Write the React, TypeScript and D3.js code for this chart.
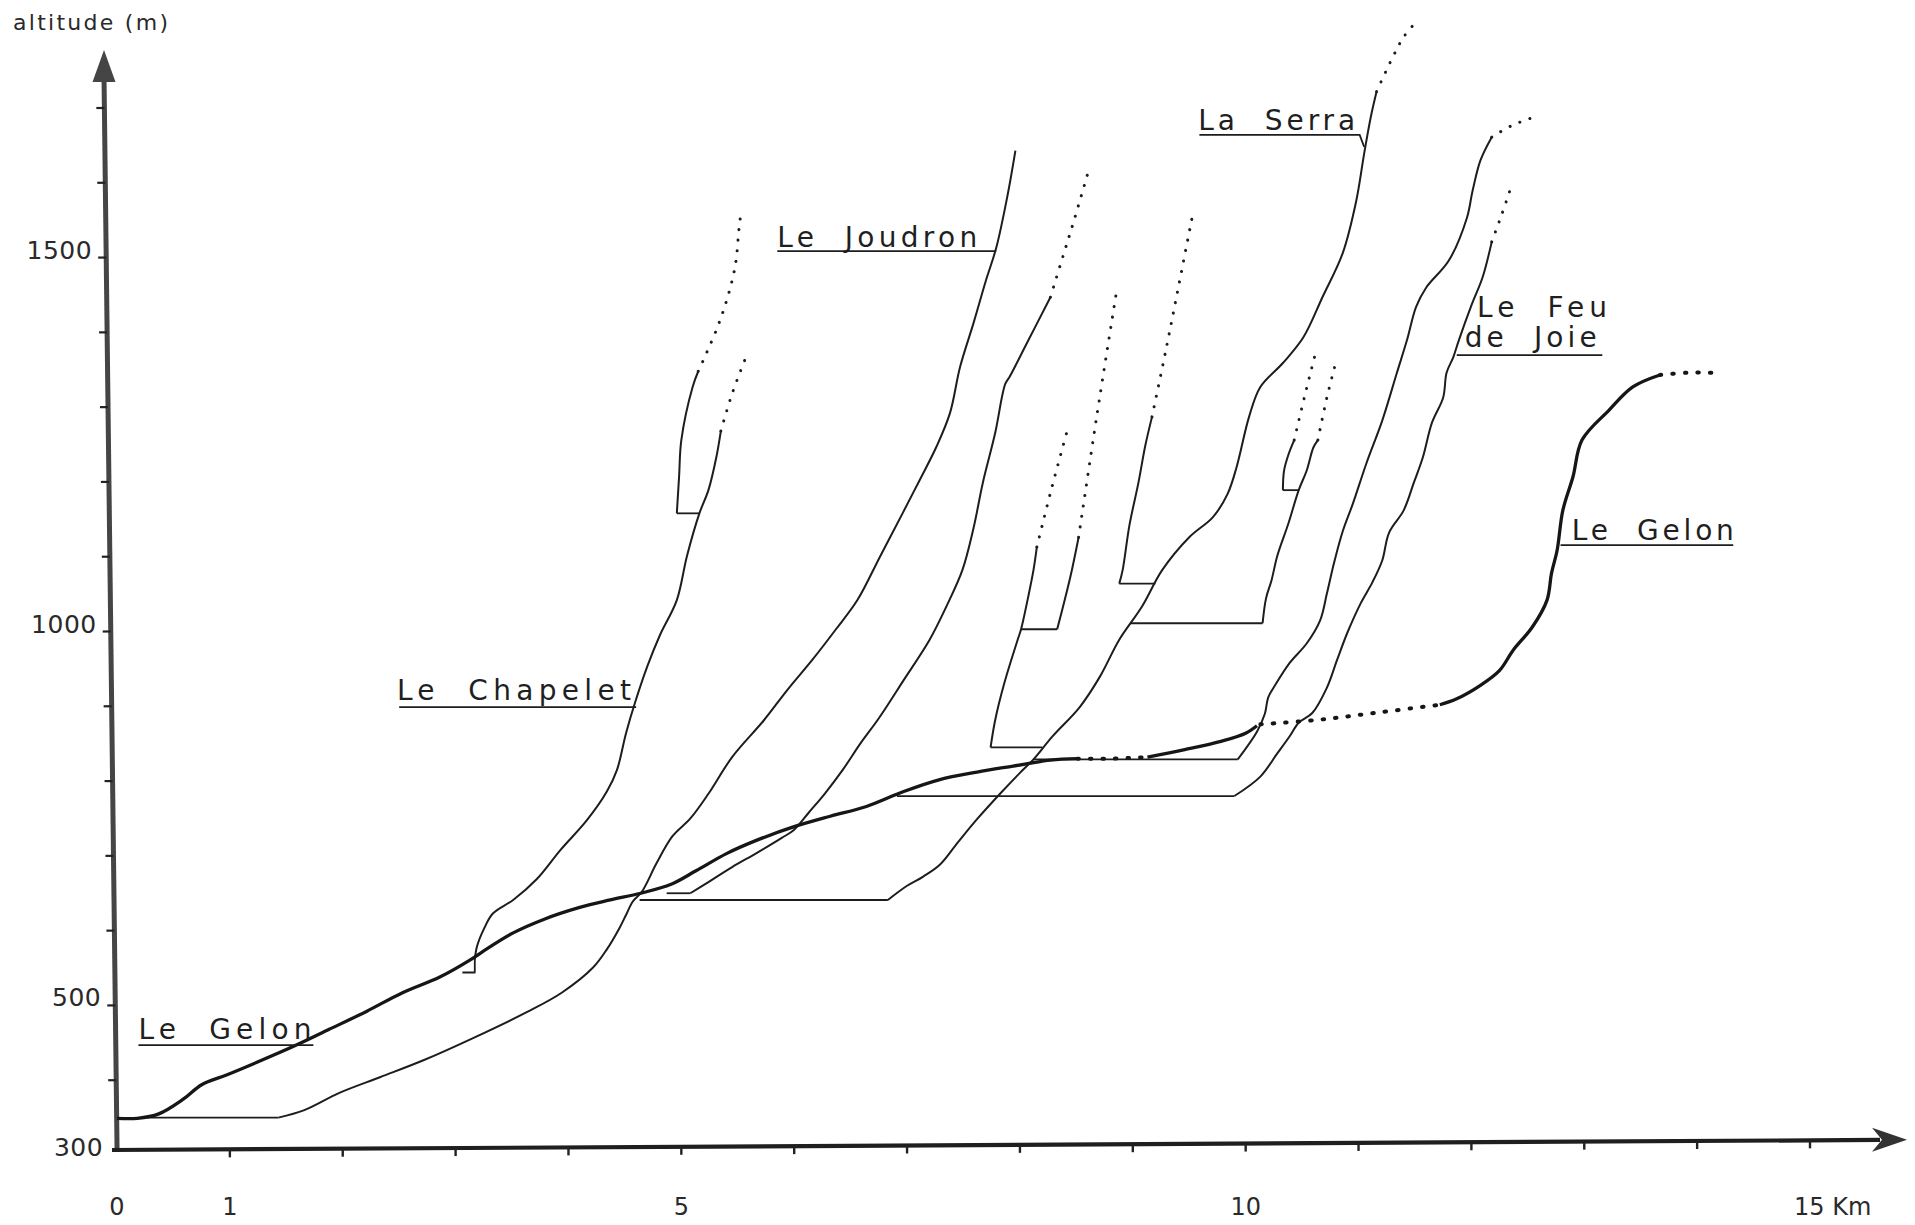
import React from 'react';
import * as d3 from 'd3';

type Pt = [number, number]; // [distance km, altitude m]
type Kind = 'main' | 'mainDots' | 'trib' | 'tribDots' | 'flat';

// Le Gelon (main stem)
const gelonA: Pt[] = [
  [0.0, 349], [0.18, 349], [0.37, 355], [0.59, 375], [0.75, 394], [0.97, 407], [1.24, 424],
  [1.56, 445], [1.88, 468], [2.21, 492], [2.53, 517], [2.86, 538], [3.13, 561], [3.29, 577],
  [3.51, 597], [3.78, 615], [4.1, 631], [4.37, 641], [4.64, 650], [4.91, 662], [5.13, 680],
  [5.4, 703], [5.67, 721], [6.0, 739], [6.32, 753], [6.64, 766], [6.97, 786], [7.29, 802],
  [7.62, 812], [7.94, 820], [8.27, 828], [8.51, 830],
];
const gelonB: Pt[] = [[8.51, 830], [8.82, 830], [9.13, 832]];
const gelonC: Pt[] = [[9.13, 832], [9.46, 842], [9.78, 853], [10.0, 864], [10.1, 874]];
const gelonD: Pt[] = [[10.13, 876], [10.65, 882], [11.19, 892], [11.72, 902]];
const gelonE: Pt[] = [
  [11.72, 902], [11.87, 910], [12.08, 928], [12.25, 948], [12.37, 975], [12.54, 1006],
  [12.67, 1042], [12.71, 1078], [12.76, 1109], [12.81, 1162], [12.9, 1207], [12.98, 1256],
  [13.22, 1296], [13.43, 1327], [13.67, 1343],
];
const gelonF: Pt[] = [[13.67, 1343], [13.91, 1346], [14.15, 1346]];

// Le Joudron
const joudronFlat: Pt[] = [[0.24, 350], [1.43, 350]];
const joudron: Pt[] = [
  [1.43, 350], [1.66, 360], [1.97, 383], [2.33, 404], [2.72, 427], [3.15, 456], [3.63, 491],
  [3.94, 517], [4.22, 551], [4.34, 575], [4.45, 603], [4.51, 621], [4.57, 639], [4.65, 652],
  [4.78, 690], [4.92, 726], [5.08, 750], [5.24, 783], [5.45, 832], [5.73, 881], [5.94, 922],
  [6.16, 962], [6.37, 1003], [6.56, 1042], [6.76, 1100], [6.96, 1158], [7.11, 1202],
  [7.26, 1247], [7.38, 1292], [7.47, 1354], [7.59, 1413], [7.7, 1470], [7.79, 1513],
  [7.89, 1583], [7.96, 1643],
];

// Le Chapelet
const chapeletFlat: Pt[] = [[3.06, 544], [3.17, 544], [3.17, 561]];
const chapelet: Pt[] = [
  [3.17, 561], [3.19, 579], [3.25, 602], [3.33, 623], [3.51, 641], [3.72, 669], [3.93, 708],
  [4.16, 747], [4.34, 786], [4.43, 815], [4.51, 864], [4.59, 905], [4.7, 954], [4.81, 995],
  [4.96, 1042], [5.05, 1101], [5.16, 1158], [5.24, 1189], [5.31, 1233], [5.35, 1268],
];
const chapeletDots: Pt[] = [[5.35, 1268], [5.45, 1318], [5.57, 1366]];
const chapeletSubFlat: Pt[] = [[5.16, 1158], [4.96, 1158]];
const chapeletSub: Pt[] = [[4.96, 1158], [4.98, 1207], [5.0, 1256], [5.1, 1327], [5.15, 1348]];
const chapeletSubDots: Pt[] = [
  [5.15, 1348], [5.31, 1403], [5.41, 1447], [5.48, 1491], [5.51, 1537], [5.53, 1562],
];

// La Serra
const serraFlat: Pt[] = [[4.63, 641], [6.83, 641]];
const serra: Pt[] = [
  [6.83, 641], [7.0, 660], [7.14, 672], [7.29, 688], [7.45, 718], [7.62, 749], [7.83, 784],
  [8.0, 811], [8.12, 829], [8.29, 860], [8.53, 899], [8.71, 940], [8.88, 989], [9.08, 1033],
  [9.26, 1082], [9.5, 1126], [9.71, 1153], [9.84, 1184], [9.92, 1220], [10.03, 1287],
  [10.13, 1327], [10.33, 1359], [10.51, 1393], [10.68, 1447], [10.86, 1506], [10.98, 1576],
  [11.04, 1630], [11.06, 1648], [11.11, 1689], [11.16, 1722],
];
const serraDots: Pt[] = [[11.16, 1722], [11.3, 1767], [11.4, 1795], [11.51, 1815]];
const serraSubFlat: Pt[] = [[9.2, 1064], [8.88, 1064]];
const serraSub: Pt[] = [[8.88, 1064], [8.91, 1082], [8.97, 1142], [9.05, 1199], [9.11, 1248], [9.17, 1287]];
const serraSubDots: Pt[] = [[9.17, 1287], [9.29, 1374], [9.41, 1465], [9.53, 1557]];

// small branches of La Serra near km 8
const branchXFlat: Pt[] = [[8.2, 845], [7.74, 845]];
const branchX: Pt[] = [
  [7.74, 845], [7.78, 881], [7.86, 930], [7.98, 989], [8.01, 1003], [8.07, 1044], [8.12, 1082], [8.15, 1113],
];
const branchXDots: Pt[] = [[8.15, 1113], [8.28, 1191], [8.42, 1269]];
const branchX2Flat: Pt[] = [[8.01, 1003], [8.33, 1003]];
const branchX2: Pt[] = [[8.33, 1003], [8.4, 1044], [8.46, 1082], [8.52, 1126]];
const branchX2Dots: Pt[] = [[8.52, 1126], [8.68, 1287], [8.85, 1449]];

// branch of La Serra near km 10
const branchYFlat: Pt[] = [[8.98, 1011], [10.15, 1011]];
const branchY: Pt[] = [
  [10.15, 1011], [10.18, 1044], [10.23, 1069], [10.28, 1101], [10.38, 1145], [10.47, 1189],
  [10.54, 1215], [10.6, 1246], [10.64, 1256],
];
const branchYDots: Pt[] = [[10.64, 1256], [10.72, 1313], [10.81, 1366]];
const branchY2Flat: Pt[] = [[10.47, 1189], [10.33, 1189]];
const branchY2: Pt[] = [[10.33, 1189], [10.34, 1215], [10.38, 1237], [10.43, 1256]];
const branchY2Dots: Pt[] = [[10.43, 1256], [10.52, 1313], [10.61, 1367]];

// unnamed stream rising from km 5
const midFlat: Pt[] = [[4.87, 650], [5.08, 650]];
const mid: Pt[] = [
  [5.08, 650], [5.24, 665], [5.45, 685], [5.67, 704], [5.89, 724], [6.0, 735], [6.13, 758],
  [6.27, 783], [6.43, 815], [6.59, 851], [6.75, 884], [6.97, 935], [7.2, 989], [7.35, 1034],
  [7.49, 1082], [7.59, 1139], [7.67, 1198], [7.78, 1265], [7.87, 1331], [7.91, 1341],
  [8.06, 1385], [8.27, 1447],
];
const midDots: Pt[] = [[8.27, 1447], [8.38, 1501], [8.48, 1550], [8.6, 1612]];

// unnamed stream joining at km 10
const eastFlat: Pt[] = [[8.12, 829], [9.93, 829]];
const east: Pt[] = [
  [9.93, 829], [10.1, 866], [10.17, 890], [10.2, 912], [10.26, 928], [10.39, 958], [10.54, 984],
  [10.66, 1015], [10.72, 1051], [10.78, 1090], [10.86, 1134], [10.95, 1171], [11.07, 1225],
  [11.21, 1282], [11.34, 1346], [11.43, 1390], [11.51, 1434], [11.6, 1460], [11.8, 1496],
  [11.96, 1553], [12.01, 1589], [12.08, 1630], [12.18, 1661],
];
const eastDots: Pt[] = [[12.18, 1661], [12.35, 1676], [12.52, 1686]];

// Le Feu de Joie
const feuFlat: Pt[] = [[6.91, 780], [9.9, 780]];
const feu: Pt[] = [
  [9.9, 780], [10.13, 806], [10.28, 837], [10.39, 860], [10.47, 878], [10.59, 891], [10.72, 925],
  [10.81, 962], [10.9, 998], [11.02, 1038], [11.12, 1065], [11.21, 1095], [11.27, 1132],
  [11.4, 1162], [11.49, 1199], [11.57, 1233], [11.65, 1279], [11.75, 1313], [11.78, 1346],
  [11.84, 1367], [11.89, 1390], [12.0, 1436], [12.1, 1474], [12.18, 1521],
];
const feuDots: Pt[] = [[12.18, 1521], [12.27, 1558], [12.36, 1598]];

const segments: { pts: Pt[]; kind: Kind }[] = [
  { pts: joudronFlat, kind: 'flat' }, { pts: joudron, kind: 'trib' },
  { pts: chapeletFlat, kind: 'flat' }, { pts: chapelet, kind: 'trib' }, { pts: chapeletDots, kind: 'tribDots' },
  { pts: chapeletSubFlat, kind: 'flat' }, { pts: chapeletSub, kind: 'trib' }, { pts: chapeletSubDots, kind: 'tribDots' },
  { pts: serraFlat, kind: 'flat' }, { pts: serra, kind: 'trib' }, { pts: serraDots, kind: 'tribDots' },
  { pts: serraSubFlat, kind: 'flat' }, { pts: serraSub, kind: 'trib' }, { pts: serraSubDots, kind: 'tribDots' },
  { pts: branchXFlat, kind: 'flat' }, { pts: branchX, kind: 'trib' }, { pts: branchXDots, kind: 'tribDots' },
  { pts: branchX2Flat, kind: 'flat' }, { pts: branchX2, kind: 'trib' }, { pts: branchX2Dots, kind: 'tribDots' },
  { pts: branchYFlat, kind: 'flat' }, { pts: branchY, kind: 'trib' }, { pts: branchYDots, kind: 'tribDots' },
  { pts: branchY2Flat, kind: 'flat' }, { pts: branchY2, kind: 'trib' }, { pts: branchY2Dots, kind: 'tribDots' },
  { pts: midFlat, kind: 'flat' }, { pts: mid, kind: 'trib' }, { pts: midDots, kind: 'tribDots' },
  { pts: eastFlat, kind: 'flat' }, { pts: east, kind: 'trib' }, { pts: eastDots, kind: 'tribDots' },
  { pts: feuFlat, kind: 'flat' }, { pts: feu, kind: 'trib' }, { pts: feuDots, kind: 'tribDots' },
  { pts: gelonA, kind: 'main' }, { pts: gelonB, kind: 'mainDots' }, { pts: gelonC, kind: 'main' },
  { pts: gelonD, kind: 'mainDots' }, { pts: gelonE, kind: 'main' }, { pts: gelonF, kind: 'mainDots' },
];

const xTickKm = [1, 2, 3, 4, 5, 6, 7, 8, 9, 10, 11, 12, 13, 14, 15];
const yTickAlt = [400, 500, 600, 700, 800, 900, 1000, 1100, 1200, 1300, 1400, 1500, 1600, 1700];
const xLabelKm = [0, 1, 5, 10, 15];
const xLabelText = ['0', '1', '5', '10', '15 Km'];
const yLabelAlt = [300, 500, 1000, 1500];

// river names: text lines with their anchor (km, m), underline in km/m
const riverLabels: { lines: string[]; at: Pt[]; underline: Pt[] }[] = [
  { lines: ['Le  Gelon'], at: [[0.19, 455]], underline: [[0.19, 447], [1.74, 447]] },
  { lines: ['Le  Chapelet'], at: [[2.48, 908]], underline: [[2.5, 899], [4.6, 899]] },
  { lines: ['Le  Joudron'], at: [[5.85, 1514]], underline: [[5.85, 1508.6], [7.79, 1508.6]] },
  { lines: ['La  Serra'], at: [[9.58, 1670]], underline: [[9.59, 1664], [11.01, 1664], [11.05, 1648]] },
  { lines: ['Le  Feu', 'de  Joie'], at: [[12.05, 1420], [11.94, 1380]], underline: [[11.87, 1369.5], [13.16, 1369.5]] },
  { lines: ['Le  Gelon'], at: [[12.89, 1122]], underline: [[12.79, 1115.5], [14.32, 1115.5]] },
];
const labelWidths = [[173], [234], [200], [157], [130, 132], [162]];

const FONT = '"DejaVu Sans", "Liberation Sans", Arial, sans-serif';
const INK = '#1d1d1d';

export default function App() {
  const x = d3.scaleLinear().domain([0, 15]).range([117, 1810]);
  const y = d3.scaleLinear().domain([300, 1700]).range([1155, 108]);

  const smooth = d3.line<Pt>().x(d => x(d[0])).y(d => y(d[1])).curve(d3.curveCatmullRom.alpha(0.5));
  const straight = d3.line<Pt>().x(d => x(d[0])).y(d => y(d[1]));

  // the scanned axes are slightly skewed
  const yAxisX = (py: number) => 104 + (py - 80) * 0.0122;
  const xAxisY = (px: number) => 1150 - (px - 116) * 0.0057;

  const style = (k: Kind) => {
    switch (k) {
      case 'main': return { strokeWidth: 3.3, stroke: '#161616' };
      case 'mainDots': return { strokeWidth: 4, stroke: '#161616', strokeDasharray: '1.5 11', strokeLinecap: 'round' as const };
      case 'tribDots': return { strokeWidth: 3, stroke: INK, strokeDasharray: '0.1 10.5', strokeLinecap: 'round' as const };
      case 'flat': return { strokeWidth: 1.8, stroke: INK };
      default: return { strokeWidth: 2, stroke: INK };
    }
  };

  const xa0 = 112, xa1 = 1880;
  const tipX = 1907;
  const tipY = xAxisY(tipX);

  return (
    <svg width={1915} height={1225} style={{ position: 'fixed', left: 0, top: 0, background: '#fff' }}
      fontFamily={FONT}>
      <rect width={1915} height={1225} fill="#fff" />

      {/* y axis */}
      <line x1={yAxisX(1152)} y1={1152} x2={104} y2={76} stroke="#454545" strokeWidth={5} />
      <polygon points="104,50 92.5,82 115.5,82" fill="#454545" />
      {yTickAlt.map(v => {
        const py = y(v);
        const ax = yAxisX(py);
        return <line key={'yt' + v} x1={ax - 8} x2={ax} y1={py} y2={py} stroke="#222" strokeWidth={2.2} />;
      })}
      {yLabelAlt.map(v => (
        <text key={'yl' + v} x={yAxisX(y(v)) - 14} y={y(v) + 1} textAnchor="end" fontSize={25}
          letterSpacing={0.5} fill="#2a2a2a">{v}</text>
      ))}
      <text x={13} y={30} fontSize={22} textLength={155} lengthAdjust="spacing" fill="#2a2a2a"
        style={{ whiteSpace: 'pre' }}>altitude (m)</text>

      {/* x axis */}
      <line x1={xa0} y1={xAxisY(xa0)} x2={xa1} y2={xAxisY(xa1)} stroke="#1f1f1f" strokeWidth={4.2} />
      <polygon
        points={`${tipX},${tipY} ${tipX - 35},${tipY - 12} ${tipX - 25},${tipY} ${tipX - 35},${tipY + 12}`}
        fill="#333" />
      {xTickKm.map(k => {
        const px = x(k);
        const py = xAxisY(px);
        return <line key={'xt' + k} x1={px} x2={px} y1={py} y2={py + 8} stroke="#222" strokeWidth={2.4} />;
      })}
      {xLabelKm.map((k, i) => (
        <text key={'xl' + k} x={k === 15 ? x(k) - 16 : x(k)} y={1215} fontSize={24}
          textAnchor={k === 15 ? 'start' : 'middle'} fill="#2a2a2a">{xLabelText[i]}</text>
      ))}

      {/* profiles */}
      {segments.map((s, i) => (
        <path key={'s' + i} d={(s.kind === 'flat' ? straight(s.pts) : smooth(s.pts)) || ''}
          fill="none" strokeLinejoin="round" {...style(s.kind)} />
      ))}

      {/* river names */}
      {riverLabels.map((lab, i) => (
        <g key={'lab' + i}>
          {lab.lines.map((t, j) => (
            <text key={j} x={x(lab.at[j][0])} y={y(lab.at[j][1])} fontSize={28}
              textLength={labelWidths[i][j]} lengthAdjust="spacing" fill="#1f1f1f"
              style={{ whiteSpace: 'pre' }}>{t}</text>
          ))}
          <path d={straight(lab.underline) || ''} fill="none" stroke={INK} strokeWidth={1.8} />
        </g>
      ))}
    </svg>
  );
}
